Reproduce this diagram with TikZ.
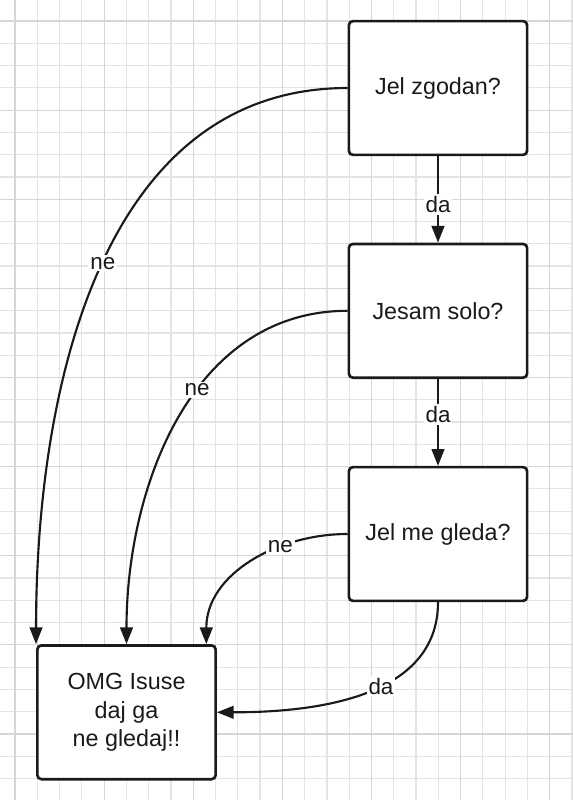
\documentclass[tikz,border=0pt]{standalone}
\usepackage{fontspec}
\setmainfont{Liberation Sans}
\usetikzlibrary{arrows.meta}
\definecolor{ink}{HTML}{1A1A1A}
\definecolor{gridminor}{HTML}{E4E4E4}
\definecolor{gridmajor}{HTML}{D6D6D6}
\begin{document}
\begin{tikzpicture}[x=0.75pt,y=-0.75pt,
    question/.style={draw=ink,line width=2pt,rounded corners=3pt,fill=white,
      minimum width=133.7pt,minimum height=100.3pt,align=center,text=ink,
      font=\fontsize{17.5}{21.2}\selectfont},
    answer/.style={fill=white,text=ink,inner sep=1.5pt,
      font=\fontsize{16.8}{20}\selectfont},
    flow/.style={draw=ink,line width=1.6pt,-{Triangle[length=12.5pt,width=9.5pt]}}]
    \useasboundingbox (0,0) rectangle (573,800);
    \fill[white] (0,0) rectangle (573,800);
    %% Grid
    \foreach \k in {0,...,25}
        \draw[gridminor,line width=0.9pt] ({15+22.28*\k},0) -- ++(0,800);
    \foreach \k in {0,...,34}
        \draw[gridminor,line width=0.9pt] (0,{21+22.28*\k}) -- ++(573,0);
    \foreach \k in {0,4,...,24}
        \draw[gridmajor,line width=0.9pt] ({15+22.28*\k},0) -- ++(0,800);
    \foreach \k in {0,4,...,32}
        \draw[gridmajor,line width=0.9pt] (0,{21+22.28*\k}) -- ++(573,0);
    %% Questions
    \node[question] (zgodan) at (438,88) {Jel zgodan?};
    \node[question] (solo) at (438,310.8) {Jesam solo?};
    \node[question] (gleda) at (438,534) {Jel me gleda?};
    \node[question] (isuse) at (126.5,712.3) {OMG Isuse\\daj ga\\ne gledaj!!};
    %% Answers
    \draw[flow] (zgodan) -- node[answer,pos=0.56] {da} (solo);
    \draw[flow] (solo) -- node[answer,pos=0.41] {da} (gleda);
    \draw[flow] (zgodan.west) to[out=180,in=90] node[answer,pos=0.485] {ne} (isuse.north west);
    \draw[flow] (solo.west) to[out=180,in=90] node[answer,pos=0.42] {ne} (isuse.north);
    \draw[flow] (gleda.west) to[out=180,in=90] node[answer,pos=0.33] {ne} ([xshift=-8pt]isuse.north east);
    \draw[flow] (gleda.south) to[out=270,in=0] node[answer,pos=0.43] {da} (isuse.east);
\end{tikzpicture}
\end{document}
